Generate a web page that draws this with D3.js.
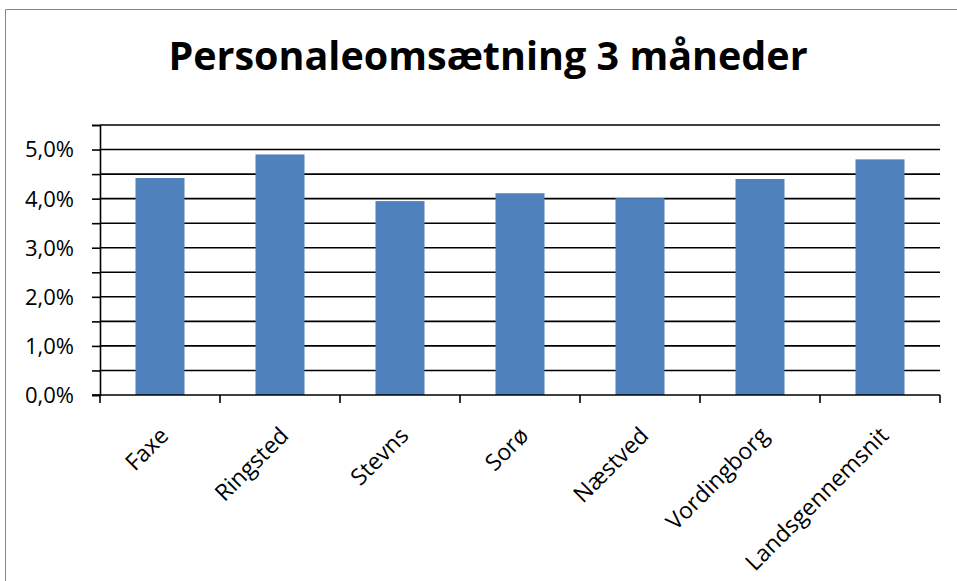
<!DOCTYPE html>
<html>
<head>
<meta charset="utf-8">
<script src="https://cdn.jsdelivr.net/npm/d3@7"></script>
<style>
  html, body { margin: 0; padding: 0; background: #fff; }
  svg { display: block; }
</style>
</head>
<body>
<svg id="chart" width="957" height="581"></svg>
<script>
const title = "Personaleomsætning 3 måneder";
const categories = ["Faxe", "Ringsted", "Stevns", "Sorø", "Næstved", "Vordingborg", "Landsgennemsnit"];
const values = [4.42, 4.90, 3.95, 4.11, 4.01, 4.40, 4.80];
const yTicks = [0, 1, 2, 3, 4, 5];
const yGrid = [0.5, 1, 1.5, 2, 2.5, 3, 3.5, 4, 4.5, 5, 5.5];
const yMax = 5.5;

const svg = d3.select("#chart");
const W = 957, H = 581;
const plot = { left: 100, right: 940, top: 125, bottom: 395 };
const font = "'Open Sans', 'Noto Sans', sans-serif";

// Chart border
svg.append("path")
  .attr("d", `M5.5,${H + 2} V9.5 H${W + 2}`)
  .attr("fill", "none")
  .attr("stroke", "#868686")
  .attr("stroke-width", 1);

// Title
svg.append("text")
  .attr("x", 488).attr("y", 70)
  .attr("text-anchor", "middle")
  .attr("font-family", font)
  .attr("font-weight", "bold")
  .attr("font-size", 39.5)
  .attr("fill", "#000")
  .text(title);

const xb = d3.scaleBand().domain(categories).range([plot.left, plot.right]);
const y = d3.scaleLinear().domain([0, yMax]).range([plot.bottom, plot.top]);

// Gridlines
svg.append("g").selectAll("line").data(yGrid).join("line")
  .attr("x1", plot.left).attr("x2", plot.right)
  .attr("y1", d => y(d)).attr("y2", d => y(d))
  .attr("stroke", "#000").attr("stroke-width", 1.6);

// Bars
svg.append("g").selectAll("rect").data(values).join("rect")
  .attr("x", (d, i) => xb(categories[i]) + xb.bandwidth() / 2 - 24.5)
  .attr("width", 49)
  .attr("y", d => y(d))
  .attr("height", d => y(0) - y(d))
  .attr("fill", "#4F81BD");

// Y axis
const yAxis = d3.axisLeft(y).tickValues([0].concat(yGrid)).tickSize(8).tickFormat(() => "");
const gy = svg.append("g").attr("transform", `translate(${plot.left},0)`).call(yAxis);
gy.select(".domain").attr("stroke", "#000").attr("stroke-width", 1.6);
gy.selectAll(".tick line").attr("stroke", "#000").attr("stroke-width", 1.6);

svg.append("g").selectAll("text").data(yTicks).join("text")
  .attr("x", 74).attr("y", d => y(d))
  .attr("dy", "0.36em")
  .attr("text-anchor", "end")
  .attr("font-family", font)
  .attr("font-size", 22)
  .attr("fill", "#000")
  .text(d => d3.format(".1f")(d).replace(".", ",") + "%");

// X axis
const gx = svg.append("g").attr("transform", `translate(0,${plot.bottom})`)
  .call(d3.axisBottom(xb).tickSize(0).tickFormat(() => ""));
gx.select(".domain").attr("d", `M${plot.left - 8},0H${plot.right}`).attr("stroke", "#000").attr("stroke-width", 1.6);
gx.selectAll(".tick").remove();
const edges = categories.map(c => xb(c)).concat([plot.right]);
gx.selectAll("line.edge").data(edges).join("line")
  .attr("class", "edge")
  .attr("x1", d => d).attr("x2", d => d)
  .attr("y1", 0).attr("y2", 8)
  .attr("stroke", "#000").attr("stroke-width", 1.6);

svg.append("g").selectAll("text").data(categories).join("text")
  .attr("transform", d => `translate(${xb(d) + xb.bandwidth() / 2 + 10},437) rotate(-45)`)
  .attr("text-anchor", "end")
  .attr("font-family", font)
  .attr("font-size", 23)
  .attr("fill", "#000")
  .text(d => d);
</script>
</body>
</html>
